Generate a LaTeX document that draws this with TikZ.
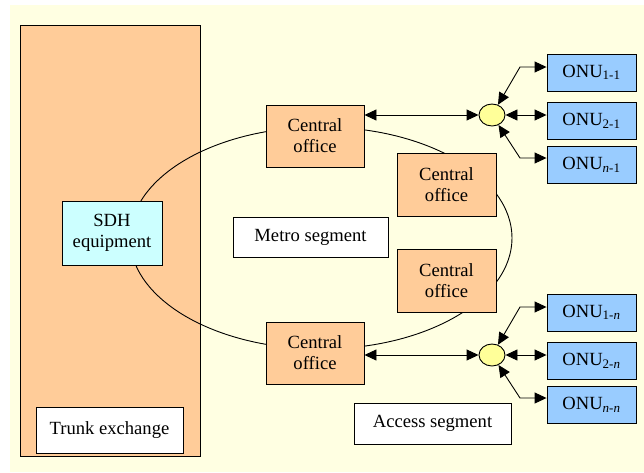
\documentclass[tikz,border=0pt]{standalone}
\usepackage{fontspec}
\setmainfont{Liberation Serif}
\usetikzlibrary{shapes.geometric,arrows.meta}
\definecolor{bgyellow}{RGB}{255,255,226}
\definecolor{orangebox}{RGB}{255,204,153}
\definecolor{cyanbox}{RGB}{204,255,255}
\definecolor{onublue}{RGB}{153,204,255}
\definecolor{junc}{RGB}{255,255,153}
\tikzset{
  box/.style={draw=black, line width=0.9pt, rectangle, inner sep=0pt, align=center,
    font=\fontsize{18.6}{21}\selectfont},
  obox/.style={box, fill=orangebox},
  wbox/.style={box, fill=white},
  onubox/.style={box, fill=onublue, minimum width=89pt, minimum height=37pt},
  cobox/.style={obox, minimum width=98pt, minimum height=62pt},
  jn/.style={draw=black, line width=0.9pt, ellipse, fill=junc, minimum width=26pt, minimum height=22pt, inner sep=0pt},
  link/.style={line width=0.9pt, {Triangle[length=12pt,width=11pt]}-{Triangle[length=12pt,width=11pt]}},
}
\begin{document}
\begin{tikzpicture}[x=1pt,y=-1pt]
\useasboundingbox (0,0) rectangle (644,472);
\fill[white] (0,0) rectangle (644,472);
\fill[bgyellow] (10,5) rectangle (644,472);
% trunk exchange
\node[obox, minimum width=180pt, minimum height=431pt] (trunk) at (110,240.5) {};
\node[wbox, minimum width=147pt, minimum height=46pt] (trunklbl) at (109.5,430) {Trunk exchange};
% ring
\draw[line width=0.9pt] (321,238) ellipse [x radius=191, y radius=111];
\node[box, fill=cyanbox, minimum width=100pt, minimum height=64pt] (sdh) at (112,233) {SDH\\equipment};
\node[cobox] (cot) at (315,136) {Central\\office};
\node[cobox] (cob) at (315,353) {Central\\office};
\node[obox, minimum width=99pt, minimum height=63pt] (cor1) at (446.5,184.5) {Central\\office};
\node[obox, minimum width=99pt, minimum height=63pt] (cor2) at (446.5,280.5) {Central\\office};
\node[wbox, minimum width=155pt, minimum height=40pt] (metro) at (310.5,237) {Metro segment};
\node[wbox, minimum width=157pt, minimum height=41pt] (access) at (432.5,423.5) {Access segment};
% junctions
\node[jn] (j1) at (492,115) {};
\node[jn] (j2) at (492,355) {};
% ONUs
\node[onubox] (o11) at (591.5,72.5) {ONU\textsubscript{1-1}};
\node[onubox] (o21) at (591.5,121) {ONU\textsubscript{2-1}};
\node[onubox] (on1) at (591.5,165) {ONU\textsubscript{\textit{n}-1}};
\node[onubox] (o1n) at (591.5,312.5) {ONU\textsubscript{1-\textit{n}}};
\node[onubox] (o2n) at (591.5,361) {ONU\textsubscript{2-\textit{n}}};
\node[onubox] (onn) at (591.5,405) {ONU\textsubscript{\textit{n}-\textit{n}}};
% elbows
\coordinate (e1t) at (520,67);
\coordinate (e1b) at (520,158);
\coordinate (e2t) at (520,307);
\coordinate (e2b) at (520,398);
% links
\draw[link] (cot.east |- j1.west) -- (j1.west);
\draw[link] (cob.east |- j2.west) -- (j2.west);
\draw[link] (j1) -- (e1t) -- (e1t -| o11.west);
\draw[link] (j1.east) -- (j1.east -| o21.west);
\draw[link] (j1) -- (e1b) -- (e1b -| on1.west);
\draw[link] (j2) -- (e2t) -- (e2t -| o1n.west);
\draw[link] (j2.east) -- (j2.east -| o2n.west);
\draw[link] (j2) -- (e2b) -- (e2b -| onn.west);
\end{tikzpicture}
\end{document}
